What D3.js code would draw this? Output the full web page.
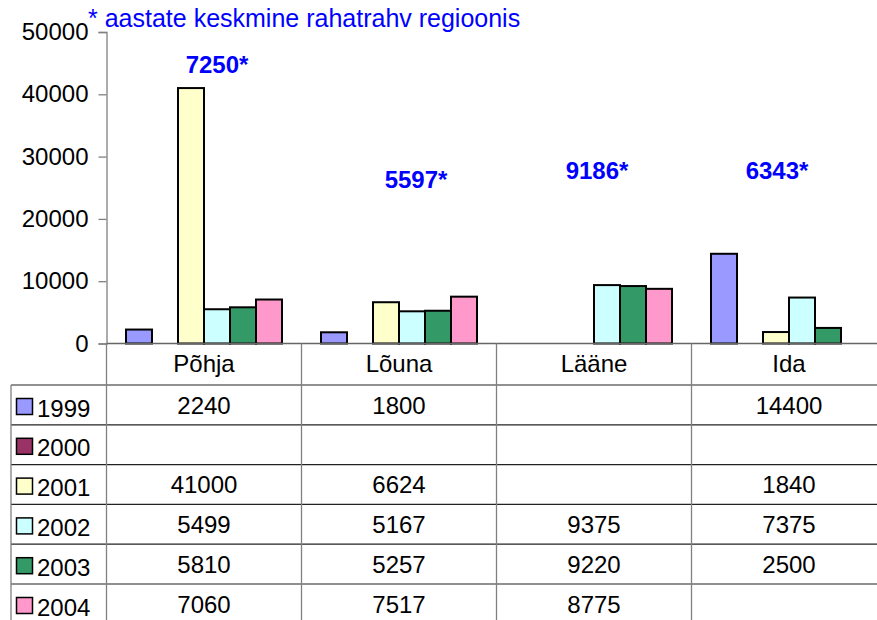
<!DOCTYPE html>
<html>
<head><meta charset="utf-8"/></head>
<script src="https://d3js.org/d3.v7.min.js"></script>
<style>
  body {margin: 0; background: #fff;}
  text {font-family: "Liberation Sans", Arial, sans-serif;}
</style>
<body>
<svg width="877" height="620"></svg>
<script>
// data
var regions = ["Põhja", "Lõuna", "Lääne", "Ida"];
var years = ["1999", "2000", "2001", "2002", "2003", "2004"];
var v1999 = [2240, 1800, null, 14400];
var v2000 = [null, null, null, null];
var v2001 = [41000, 6624, null, 1840];
var v2002 = [5499, 5167, 9375, 7375];
var v2003 = [5810, 5257, 9220, 2500];
var v2004 = [7060, 7517, 8775, null];
var averages = [7250, 5597, 9186, 6343];
var yTicks = [0, 10000, 20000, 30000, 40000, 50000];
var titleText = "* aastate keskmine rahatrahv regioonis";

var series = [v1999, v2000, v2001, v2002, v2003, v2004];
var colors = ["#9999ff", "#993366", "#ffffcc", "#ccffff", "#339966", "#ff99cc"];

// layout
var plotLeft = 106.5, catW = 195, plotTop = 32, base = 343.5;
var headH = 41.5, rowH = 39.8;
var fs = 24;
var noteDx = [13, 17, 3, -12];
var noteY = [73, 188, 179, 179];

var svg = d3.select("svg");

var x = d3.scaleBand().domain(regions).range([plotLeft, plotLeft + catW * regions.length]);
var xs = d3.scaleBand().domain(years).range([0, catW]).paddingInner(0).paddingOuter(0.75);
var y = d3.scaleLinear().domain([0, 50000]).range([base, plotTop]);

// bars
years.forEach(function(yr, si) {
  svg.append("g")
    .selectAll("rect")
    .data(series[si].map(function(v, i) { return {r: regions[i], v: v}; }).filter(function(d) { return d.v != null; }))
    .enter()
    .append("rect")
    .attr("x", function(d) { return x(d.r) + xs(yr); })
    .attr("y", function(d) { return y(d.v); })
    .attr("width", xs.bandwidth())
    .attr("height", function(d) { return base - y(d.v); })
    .attr("fill", colors[si])
    .attr("stroke", "#000")
    .attr("stroke-width", 2);
});

// y axis
var ax = svg.append("g")
  .attr("transform", "translate(" + plotLeft + ",0)")
  .call(d3.axisLeft(y).tickValues(yTicks).tickSize(8).tickPadding(10).tickFormat(d3.format("d")));
ax.select(".domain").attr("stroke", "#808080").attr("stroke-width", 1.3);
ax.selectAll(".tick line").attr("stroke", "#808080").attr("stroke-width", 1.3);
ax.selectAll(".tick text").attr("font-size", fs).attr("fill", "#000")
  .attr("font-family", "Liberation Sans, Arial, sans-serif");

// title
svg.append("text")
  .attr("x", 88).attr("y", 27)
  .attr("font-size", 25).attr("fill", "#0000ff")
  .text(titleText);

// average notes
svg.append("g").selectAll("text")
  .data(averages)
  .enter()
  .append("text")
  .attr("x", function(d, i) { return x(regions[i]) + catW / 2 + noteDx[i]; })
  .attr("y", function(d, i) { return noteY[i]; })
  .attr("text-anchor", "middle")
  .attr("font-size", fs).attr("font-weight", "bold").attr("fill", "#0000ff")
  .text(function(d) { return d + "*"; });

// data table
var rowsTop = base + headH;
var rowY = d3.scaleBand().domain(years).range([rowsTop, rowsTop + rowH * years.length]);
var tbl = svg.append("g");

// horizontal lines
tbl.append("line").attr("x1", plotLeft).attr("x2", 877).attr("y1", base).attr("y2", base)
  .attr("stroke", "#666").attr("stroke-width", 1.3);
d3.range(years.length + 1).forEach(function(i) {
  var yy = rowsTop + i * rowH;
  tbl.append("line").attr("x1", 11).attr("x2", 877).attr("y1", yy).attr("y2", yy)
    .attr("stroke", "#222").attr("stroke-width", 1.2);
});
// vertical lines
tbl.append("line").attr("x1", 11).attr("x2", 11).attr("y1", rowsTop).attr("y2", 620)
  .attr("stroke", "#808080").attr("stroke-width", 1.3);
regions.forEach(function(r) {
  tbl.append("line").attr("x1", x(r)).attr("x2", x(r)).attr("y1", base).attr("y2", 620)
    .attr("stroke", "#808080").attr("stroke-width", 1.3);
});

// category labels
tbl.selectAll("text.cat")
  .data(regions)
  .enter()
  .append("text")
  .attr("class", "cat")
  .attr("x", function(d) { return x(d) + catW / 2; })
  .attr("y", base + 28.5)
  .attr("text-anchor", "middle")
  .attr("font-size", fs)
  .text(function(d) { return d; });

// legend keys + values
years.forEach(function(yr, si) {
  var ry = rowY(yr);
  tbl.append("rect")
    .attr("x", 16.5).attr("y", ry + 13.5).attr("width", 16).attr("height", 16)
    .attr("fill", colors[si]).attr("stroke", "#000").attr("stroke-width", 1.5);
  tbl.append("text")
    .attr("x", 37).attr("y", ry + 31.5)
    .attr("font-size", fs)
    .text(yr);
  tbl.selectAll("text.v" + yr)
    .data(series[si])
    .enter()
    .append("text")
    .attr("class", "v" + yr)
    .attr("x", function(d, i) { return x(regions[i]) + catW / 2; })
    .attr("y", ry + 28.5)
    .attr("text-anchor", "middle")
    .attr("font-size", fs)
    .text(function(d) { return d == null ? "" : d; });
});
</script>
</body>
</html>
